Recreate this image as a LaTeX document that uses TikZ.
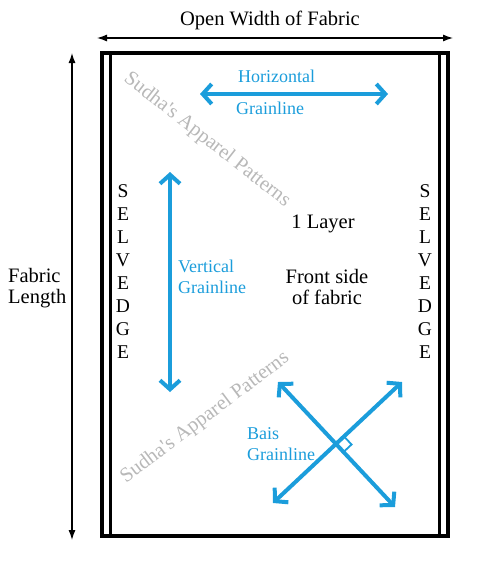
\documentclass[tikz,border=0pt]{standalone}
\usepackage{fontspec}
\setmainfont{Liberation Serif}
\newfontfamily\timesfont{Liberation Serif}
\usetikzlibrary{arrows.meta,calc}
\definecolor{grainblue}{RGB}{27,157,219}
\tikzset{
    every node/.style={inner sep=0pt, font=\timesfont\fontsize{20.5}{21}\selectfont},
    bluetext/.style={text=grainblue, font=\timesfont\fontsize{18}{20.5}\selectfont,
    	align=left, anchor=west},
    wmark/.style={text=black!28, font=\timesfont\fontsize{20.5}{21}\selectfont},
    grain/.style={draw=grainblue, line width=4pt,
    	{Straight Barb[length=9pt,width=20pt]}-{Straight Barb[length=9pt,width=20pt]}},
    measure/.style={line width=1.2pt,
    	{Latex[length=10pt,width=7pt]}-{Latex[length=10pt,width=7pt]}}
}

\begin{document}
\begin{tikzpicture}[x=1pt, y=-1pt]
	\useasboundingbox (0,0) rectangle (477,565);
	% fabric
	\draw [line width=3.5pt] (102,53) rectangle (448,536);
	\coordinate (tl) at (110,53); \coordinate (bl) at (110,536);
	\coordinate (tr) at (439,53); \coordinate (br) at (439,536);
	\draw [line width=3pt] (tl) -- (bl); \draw [line width=3pt] (tr) -- (br);
	% measures
	\coordinate (wl) at (97,38); \coordinate (wr) at (453,38);
	\coordinate (lt) at (72,53); \coordinate (lb) at (72,540);
	\draw [measure] (wl) -- (wr); \draw [measure] (lt) -- (lb);
	\node (width) at (270,20) {Open Width of Fabric};
	\node [align=left, anchor=west] (length) at (8,288) {Fabric\\Length};
	% watermarks
	\node [wmark, rotate=-38] (wm1) at (207,140) {Sudha's Apparel Patterns};
	\node [wmark, rotate=37] (wm2) at (205,418) {Sudha's Apparel Patterns};
	% selvedges
	\node [align=center, font=\timesfont\fontsize{19.5}{23}\selectfont] (sell) at (123,272) {S\\E\\L\\V\\E\\D\\G\\E};
	\node [align=center, font=\timesfont\fontsize{19.5}{23}\selectfont] (selr) at (425,272) {S\\E\\L\\V\\E\\D\\G\\E};
	\node (layer) at (323,224) {1 Layer};
	\node [align=center] (front) at (327,287) {Front side\\of fabric};
	% grainlines
	\coordinate (hl) at (200,94); \coordinate (hr) at (388,94);
	\draw [grain] (hl) -- (hr);
	\node [bluetext] (horiz) at (238,76) {Horizontal};
	\node [bluetext] (horizg) at (236,108) {Grainline};
	\coordinate (vt) at (170,172); \coordinate (vb) at (170,392);
	\draw [grain] (vt) -- (vb);
	\node [bluetext] (vert) at (178,277) {Vertical\\Grainline};
	\coordinate (ul) at (278,382); \coordinate (lr) at (395,507);
	\coordinate (ll) at (273,503); \coordinate (ur) at (402,382);
	\coordinate (c) at (intersection of ul--lr and ll--ur);
	\draw [grain] (ul) -- (lr); \draw [grain] (ll) -- (ur);
	\coordinate (ra1) at ($(c)!11pt!(ur)$); \coordinate (ra2) at ($(c)!11pt!(lr)$);
	\draw [draw=grainblue, line width=1.8pt] (ra1) -- ($(ra1)+(ra2)-(c)$) -- (ra2);
	\node [bluetext] (bias) at (247,444) {Bais\\Grainline};
\end{tikzpicture}
\end{document}
